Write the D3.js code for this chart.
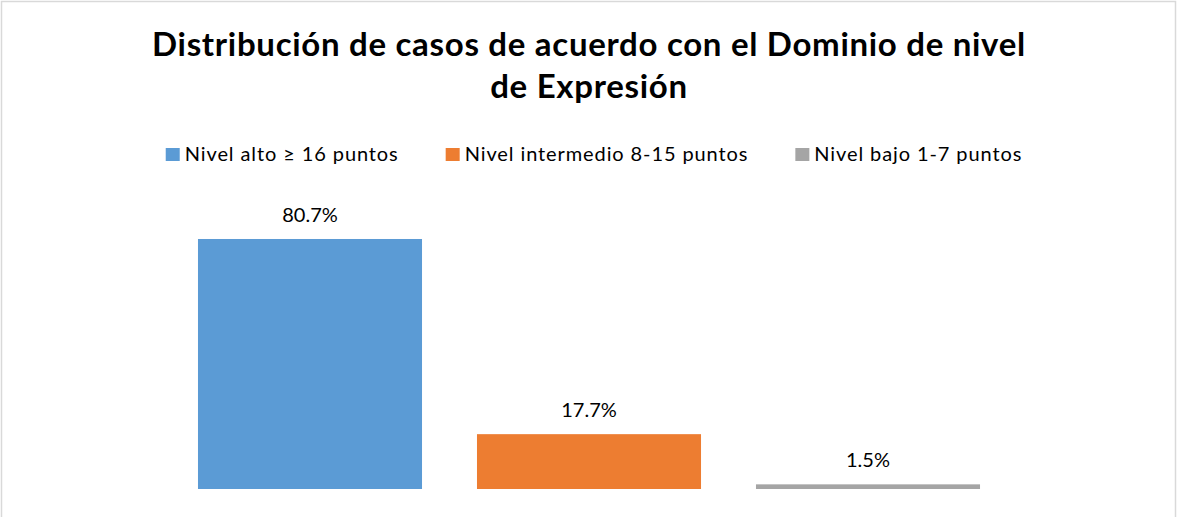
<!DOCTYPE html>
<html>
<head>
<meta charset="utf-8">
<script src="https://cdn.jsdelivr.net/npm/d3@7"></script>
<style>
  html, body { margin: 0; padding: 0; background: #fff; }
  svg { display: block; }
  text { font-family: Lato, "Open Sans", sans-serif; fill: #000; }
</style>
</head>
<body>
<svg id="chart" width="1177" height="517"></svg>
<script>
const titleLines = ["Distribución de casos de acuerdo con el Dominio de nivel", "de Expresión"];
const categories = ["Nivel alto ≥ 16 puntos", "Nivel intermedio 8-15 puntos", "Nivel bajo 1-7 puntos"];
const values = [80.7, 17.7, 1.5];
const valueLabels = ["80.7%", "17.7%", "1.5%"];
const colors = ["#5b9bd5", "#ed7d31", "#a5a5a5"];

const W = 1177, H = 517;
const svg = d3.select("#chart");

// chart border
svg.append("rect")
  .attr("x", 1.5).attr("y", 1.5)
  .attr("width", W - 3).attr("height", H + 10)
  .attr("fill", "#fff").attr("stroke", "#d9d9d9").attr("stroke-width", 1.5);

// title
const title = svg.append("text")
  .attr("text-anchor", "middle")
  .attr("font-weight", "bold")
  .attr("font-size", 33)
  .attr("letter-spacing", 0.7);
titleLines.forEach((t, i) => {
  title.append("tspan").attr("x", 589).attr("y", 56 + i * 41.5).text(t);
});

// scales
const x = d3.scaleBand()
  .domain(categories)
  .range([170.5, 1007.5])
  .paddingInner(0.197)
  .paddingOuter(0.0985);

const y = d3.scaleLinear()
  .domain([0, 100])
  .range([489, 489 - 309.8]);

// bars
svg.append("g").selectAll("rect")
  .data(categories)
  .join("rect")
  .attr("x", d => x(d))
  .attr("width", x.bandwidth())
  .attr("y", (d, i) => y(values[i]))
  .attr("height", (d, i) => y(0) - y(values[i]))
  .attr("fill", (d, i) => colors[i]);

// value labels
svg.append("g").selectAll("text")
  .data(categories)
  .join("text")
  .attr("x", d => x(d) + x.bandwidth() / 2)
  .attr("y", (d, i) => y(values[i]) - 17)
  .attr("text-anchor", "middle")
  .attr("font-size", 20)
  .text((d, i) => valueLabels[i]);

// legend
const legend = svg.append("g");
const items = legend.selectAll("g")
  .data(categories)
  .join("g");
items.append("rect")
  .attr("width", 14).attr("height", 13)
  .attr("y", 148)
  .attr("fill", (d, i) => colors[i]);
items.append("text")
  .attr("x", 19)
  .attr("y", 161)
  .attr("font-size", 20)
  .attr("letter-spacing", 0.9)
  .text(d => d);
const widths = [];
items.each(function () {
  const w = d3.select(this).select("text").node().getComputedTextLength();
  widths.push(19 + w);
});
const gap = 47;
const total = d3.sum(widths) + gap * (widths.length - 1);
let start = 594 - total / 2;
items.attr("transform", (d, i) => {
  const tx = start;
  start += widths[i] + gap;
  return `translate(${tx},0)`;
});
</script>
</body>
</html>
